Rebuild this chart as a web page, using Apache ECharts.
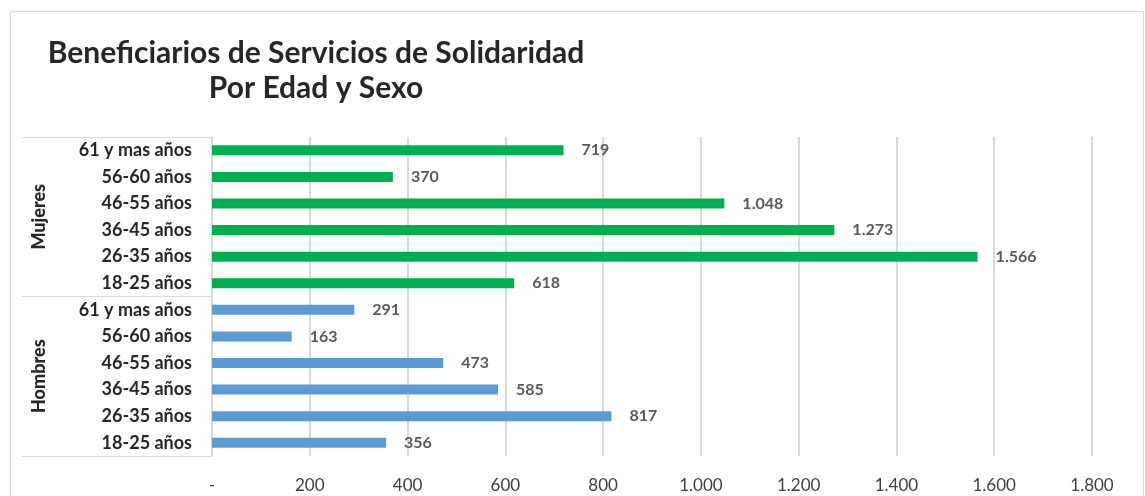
<!DOCTYPE html>
<html>
<head>
<meta charset="utf-8">
<script src="https://cdn.jsdelivr.net/npm/echarts@6/dist/echarts.min.js"></script>
<style>
  html, body { margin: 0; padding: 0; background: #fff; }
  #chart { width: 1145px; height: 496px; }
</style>
</head>
<body>
<div id="chart"></div>
<script>
// rows listed top to bottom
let ageGroups = ['61 y mas años', '56-60 años', '46-55 años', '36-45 años', '26-35 años', '18-25 años']
let sexGroups = ['Mujeres', 'Hombres']
let mujeres = [719, 370, 1048, 1273, 1566, 618]
let hombres = [291, 163, 473, 585, 817, 356]
let xTickLabels = ['-', '200', '400', '600', '800', '1.000', '1.200', '1.400', '1.600', '1.800']

let categories = ageGroups.concat(ageGroups)
let mujeresData = mujeres.concat(ageGroups.map(function() { return '-' }))
let hombresData = ageGroups.map(function() { return '-' }).concat(hombres)

function fmt(v) {
    return String(v).replace(/\B(?=(\d{3})+(?!\d))/g, '.')
}

let font = 'Lato, "Open Sans", sans-serif'
let myChart = echarts.init(document.getElementById('chart'))

let valueLabel = {
    show: true,
    position: 'right',
    distance: 18,
    fontFamily: font,
    fontSize: 16,
    fontWeight: 'bold',
    color: '#595959',
    formatter: function(p) { return fmt(p.value) }
}

let option = {
    animation: false,
    title: {
        text: 'Beneficiarios de Servicios de Solidaridad\nPor Edad y Sexo',
        left: 311,
        top: 31,
        textAlign: 'center',
        textStyle: {
            fontFamily: font,
            fontSize: 30,
            fontWeight: 'bold',
            color: '#262626',
            lineHeight: 35
        }
    },
    graphic: [{
        type: 'rect',
        shape: { x: 10.5, y: 11.5, width: 1133, height: 520 },
        style: { fill: 'none', stroke: '#d9d9d9', lineWidth: 1 },
        silent: true
    }],
    grid: {
        left: 212,
        right: 53,
        top: 137,
        bottom: 40
    },
    xAxis: {
        type: 'value',
        min: 0,
        max: 1800,
        interval: 200,
        axisLine: { show: false },
        axisTick: { show: false },
        splitLine: { lineStyle: { color: '#d9d9d9', width: 2 } },
        axisLabel: {
            margin: 21,
            fontFamily: font,
            fontSize: 17,
            color: '#404040',
            formatter: function(v) {
                return xTickLabels[Math.round(v / 200)]
            }
        }
    },
    yAxis: [{
        type: 'category',
        data: categories,
        inverse: true,
        axisLine: { show: true, lineStyle: { color: '#d9d9d9' } },
        axisTick: { show: false },
        axisLabel: {
            margin: 20,
            fontFamily: font,
            fontSize: 18,
            fontWeight: 'bold',
            color: '#262626'
        }
    }, {
        type: 'category',
        data: sexGroups,
        inverse: true,
        position: 'left',
        axisLine: { show: false },
        axisTick: { show: true, length: 190, lineStyle: { color: '#d9d9d9' } },
        axisLabel: {
            rotate: 90,
            margin: 164,
            fontFamily: font,
            fontSize: 18,
            fontWeight: 900,
            color: '#262626'
        }
    }],
    series: [{
        name: 'Mujeres',
        type: 'bar',
        data: mujeresData,
        barWidth: 10,
        barGap: '-100%',
        itemStyle: { color: '#00b050' },
        label: valueLabel
    }, {
        name: 'Hombres',
        type: 'bar',
        data: hombresData,
        barWidth: 10,
        barGap: '-100%',
        itemStyle: { color: '#5b9bd5' },
        label: valueLabel
    }]
}
myChart.setOption(option)
</script>
</body>
</html>
